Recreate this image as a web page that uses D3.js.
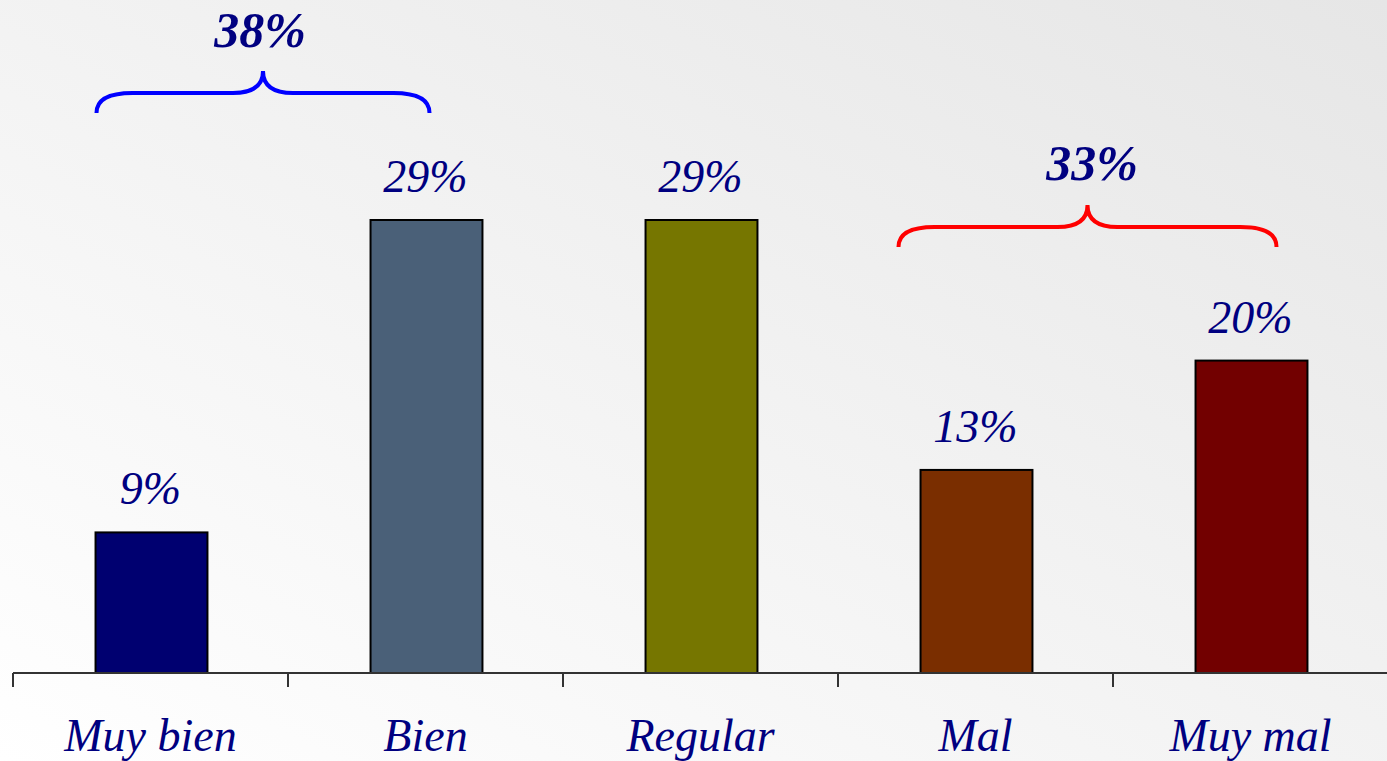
<!DOCTYPE html>
<html><head><meta charset="utf-8">
<script src="https://cdn.jsdelivr.net/npm/d3@7"></script>
<style>html,body{margin:0;padding:0;overflow:hidden;}svg{display:block;}</style>
</head><body>
<svg id="chart" width="1387" height="761"></svg>
<script>
const categories = ["Muy bien", "Bien", "Regular", "Mal", "Muy mal"];
const values = [9, 29, 29, 13, 20];
const valueLabels = ["9%", "29%", "29%", "13%", "20%"];
const barColors = ["#000070", "#4a6078", "#767600", "#7a2e00", "#720000"];
const groupLabels = ["38%", "33%"];
const groupColors = ["#0000ff", "#ff0000"];
const groupMembers = [["Muy bien", "Bien"], ["Mal", "Muy mal"]];

const W = 1387, H = 761;
const svg = d3.select("#chart");
const defs = svg.append("defs");
const grad = defs.append("linearGradient").attr("id", "bg")
  .attr("x1", "0%").attr("y1", "100%").attr("x2", "100%").attr("y2", "0%");
grad.append("stop").attr("offset", "0%").attr("stop-color", "#ffffff");
grad.append("stop").attr("offset", "100%").attr("stop-color", "#e6e6e6");
svg.append("rect").attr("width", W).attr("height", H).attr("fill", "url(#bg)");

const x = d3.scaleBand().domain(categories).range([13, 1388]).padding(0);
const y = d3.scaleLinear().domain([0, 29]).range([673, 220]);
const barW = x.bandwidth() * 0.407;
const textColor = "#000080";
const font = "'Liberation Serif', 'Times New Roman', serif";

// bars
svg.selectAll("rect.bar").data(categories).join("rect")
  .attr("class", "bar")
  .attr("x", d => x(d) + x.bandwidth() / 2 - barW / 2 + 1)
  .attr("y", (d, i) => y(values[i]))
  .attr("width", barW)
  .attr("height", (d, i) => y(0) - y(values[i]))
  .attr("fill", (d, i) => barColors[i])
  .attr("stroke", "#000").attr("stroke-width", 2);

// axis
const ax = svg.append("g").attr("stroke", "#333").attr("stroke-width", 2);
ax.append("line").attr("x1", x.range()[0]).attr("x2", W).attr("y1", y(0)).attr("y2", y(0));
ax.selectAll("line.tick").data(categories).join("line").attr("class", "tick")
  .attr("x1", d => x(d)).attr("x2", d => x(d)).attr("y1", y(0)).attr("y2", y(0) + 14);

// category labels
svg.selectAll("text.cat").data(categories).join("text").attr("class", "cat")
  .attr("x", d => x(d) + x.bandwidth() / 2)
  .attr("y", 751)
  .attr("text-anchor", "middle")
  .attr("font-family", font).attr("font-style", "italic").attr("font-size", 46)
  .attr("fill", textColor)
  .text(d => d);

// value labels
svg.selectAll("text.val").data(categories).join("text").attr("class", "val")
  .attr("x", d => x(d) + x.bandwidth() / 2)
  .attr("y", (d, i) => y(values[i]) - 28)
  .attr("text-anchor", "middle")
  .attr("font-family", font).attr("font-style", "italic").attr("font-size", 46)
  .attr("fill", textColor)
  .text((d, i) => valueLabels[i]);

// braces (annotation layout)
const braceLayout = [
  {x0: x("Muy bien") + x.bandwidth() / 2 - 54, x1: x("Bien") + x.bandwidth() / 2 + 4, yEnd: 113, yLine: 93, yPeak: 71, tx: 260, ty: 47},
  {x0: x("Mal") + x.bandwidth() / 2 - 77, x1: x("Muy mal") + x.bandwidth() / 2 + 26, yEnd: 247, yLine: 227, yPeak: 205, tx: 1092, ty: 180}
];
braceLayout.forEach((b, i) => {
  const xm = (b.x0 + b.x1) / 2;
  const r = 30;
  const p = d3.path();
  p.moveTo(b.x0, b.yEnd);
  p.quadraticCurveTo(b.x0, b.yLine, b.x0 + r * 1.2, b.yLine);
  p.lineTo(xm - r, b.yLine);
  p.quadraticCurveTo(xm, b.yLine, xm, b.yPeak);
  p.quadraticCurveTo(xm, b.yLine, xm + r, b.yLine);
  p.lineTo(b.x1 - r * 1.2, b.yLine);
  p.quadraticCurveTo(b.x1, b.yLine, b.x1, b.yEnd);
  svg.append("path").attr("d", p.toString())
    .attr("fill", "none").attr("stroke", groupColors[i]).attr("stroke-width", 4);
  svg.append("text").attr("x", b.tx).attr("y", b.ty)
    .attr("text-anchor", "middle")
    .attr("font-family", font).attr("font-style", "italic").attr("font-weight", "bold")
    .attr("font-size", 50).attr("fill", textColor)
    .text(groupLabels[i]);
});
</script>
</body></html>
